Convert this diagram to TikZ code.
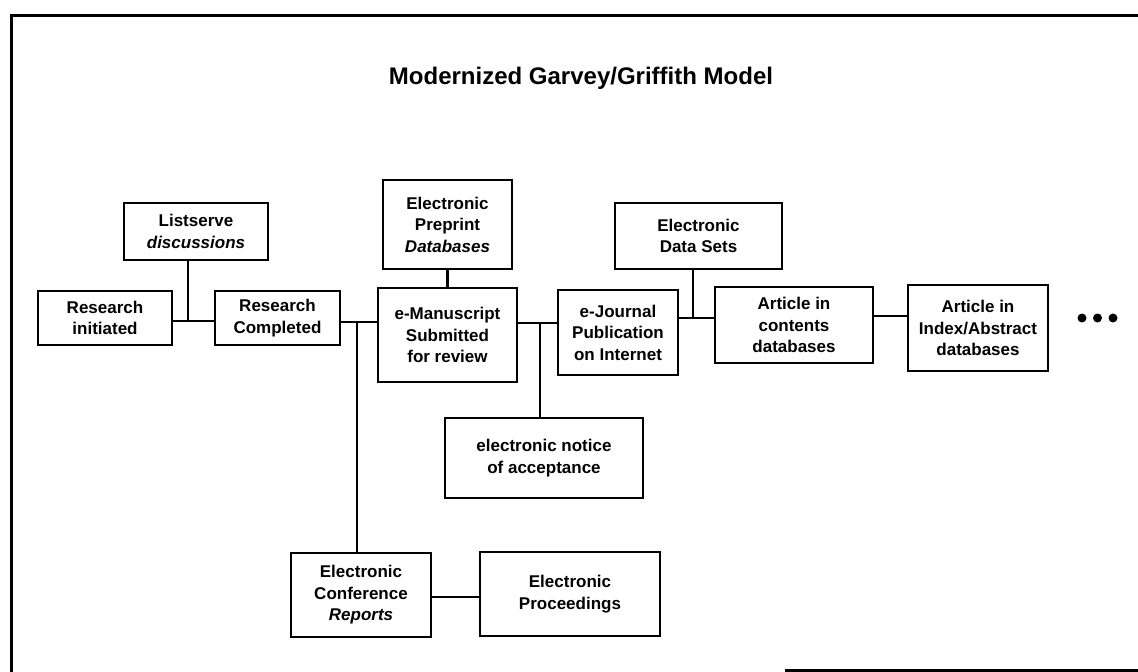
\documentclass[tikz,border=0pt]{standalone}
\usepackage{fontspec}
\setmainfont{Liberation Sans}
\begin{document}
\begin{tikzpicture}[x=1pt,y=-1pt,
  box/.style={draw, line width=2.8pt, inner sep=0pt, outer sep=0pt, align=center,
    font=\fontsize{17}{21.5}\selectfont\bfseries},
  conn/.style={line width=2.8pt},
  frame/.style={line width=3pt},
  dot/.style={circle, fill, inner sep=0pt, minimum size=9pt}]
\useasboundingbox (0,0) rectangle (1138,672);
% frame
\draw[frame] (1138,15) -- (11,15) -- (11,672);
\draw[frame] (785,670) -- (1138,670);
% title
\node[font=\fontsize{24}{28}\selectfont\bfseries] (title) at (581,78) {Modernized Garvey/Griffith Model};
% boxes
\node[box, minimum width=144pt, minimum height=57pt] (list) at (196,231.5) {Listserve\\\textit{discussions}};
\node[box, minimum width=134pt, minimum height=54pt] (init) at (105,318) {Research\\initiated};
\node[box, minimum width=125pt, minimum height=54pt] (compl) at (277.5,318) {Research\\Completed};
\node[box, minimum width=129pt, minimum height=89pt] (pre) at (447.5,224.5) {Electronic\\Preprint\\\textit{Databases}};
\node[box, minimum width=139pt, minimum height=94pt] (manu) at (447.5,335) {e-Manuscript\\Submitted\\for review};
\node[box, minimum width=120pt, minimum height=85pt] (journal) at (618,332.5) {e-Journal\\Publication\\on Internet};
\node[box, minimum width=167pt, minimum height=66pt] (data) at (698.5,236) {Electronic\\Data Sets};
\node[box, minimum width=158pt, minimum height=76pt] (contents) at (794,325) {Article in\\contents\\databases};
\node[box, minimum width=140pt, minimum height=86pt] (index) at (978,328) {Article in\\Index/Abstract\\databases};
\node[box, minimum width=198pt, minimum height=80pt] (notice) at (544,458) {electronic notice\\of acceptance};
\node[box, minimum width=140pt, minimum height=84pt] (conf) at (361,595) {Electronic\\Conference\\\textit{Reports}};
\node[box, minimum width=180pt, minimum height=84pt] (proc) at (570,594) {Electronic\\Proceedings};
% dots
\node[dot] (d1) at (1082,318) {};
\node[dot] (d2) at (1097.5,318) {};
\node[dot] (d3) at (1113,318) {};
% junctions
\coordinate (j1) at (188,321);
\coordinate (j2) at (357,322);
\coordinate (j3) at (540,323);
\coordinate (j4) at (693,318);
\coordinate (j5) at (890,316);
\coordinate (j6) at (455,597);
% connectors
\draw[conn] (init.east |- j1) -- (compl.west |- j1);
\draw[conn] (j1 |- list.south) -- (j1);
\draw[conn] (compl.east |- j2) -- (manu.west |- j2);
\draw[conn] (j2) -- (j2 |- conf.north);
\draw[conn] (pre.south) -- (manu.north);
\draw[conn] (manu.east |- j3) -- (journal.west |- j3);
\draw[conn] (j3) -- (j3 |- notice.north);
\draw[conn] (journal.east |- j4) -- (contents.west |- j4);
\draw[conn] (j4 |- data.south) -- (j4);
\draw[conn] (contents.east |- j5) -- (index.west |- j5);
\draw[conn] (conf.east |- j6) -- (proc.west |- j6);
\end{tikzpicture}
\end{document}
